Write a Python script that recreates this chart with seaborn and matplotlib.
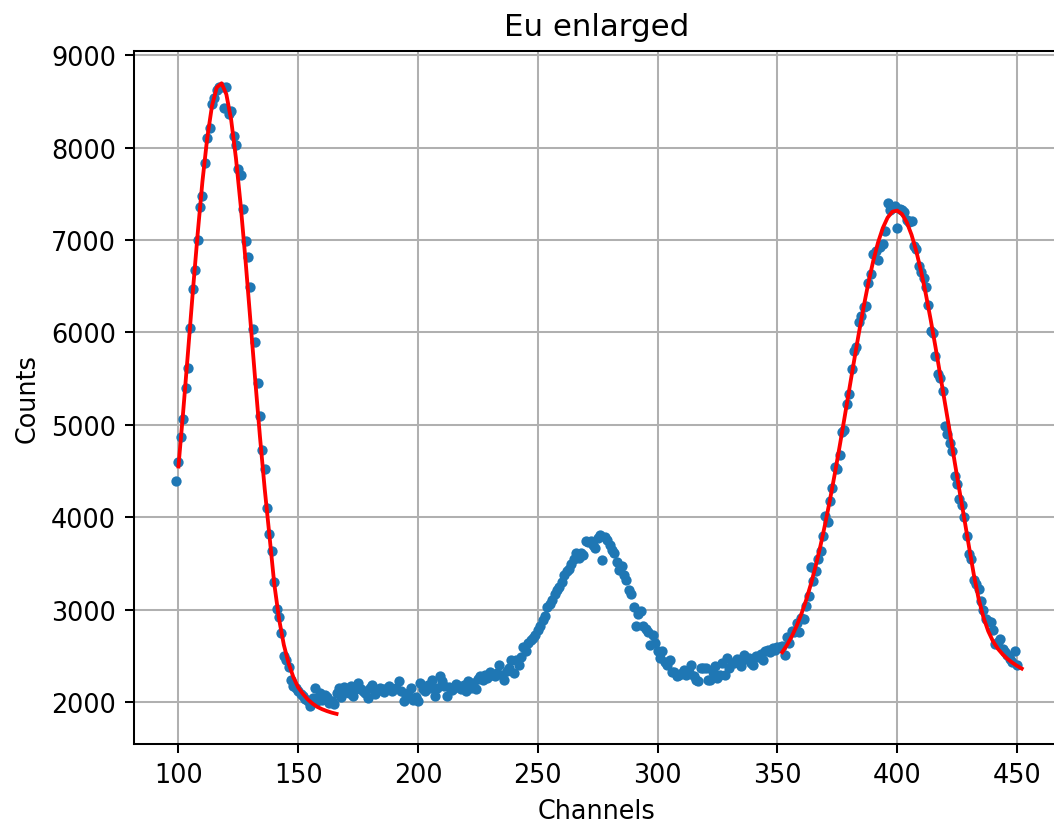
import numpy as np
import pandas as pd
import matplotlib
matplotlib.use("Agg")
import matplotlib.pyplot as plt
import seaborn as sns

# ---------------- data ----------------
first_channel = 99
counts = [
    4390, 4600, 4870, 5060, 5400, 5620, 6050, 6470, 6680, 7000,   # 99-108
    7355, 7480, 7830, 8100, 8210, 8470, 8540, 8620, 8660, 8650,   # 109-118
    8425, 8650, 8360, 8390, 8120, 8030, 7770, 7700, 7330, 6985,   # 119-128
    6820, 6490, 6040, 5900, 5450, 5100, 4730, 4520, 4105, 3825,   # 129-138
    3635, 3305, 3005, 2925, 2745, 2500, 2460, 2385, 2245, 2175,   # 139-148
    2150, 2120, 2090, 2065, 2040, 2010, 1960, 2050, 2160, 2010,   # 149-158
    2100, 2030, 2080, 2060, 1995, 2010, 1985, 2100, 2150, 2060,   # 159-168
    2170, 2110, 2100, 2175, 2065, 2140, 2210, 2140, 2120, 2100,   # 169-178
    2050, 2150, 2190, 2085, 2120, 2160, 2140, 2110, 2150, 2175,   # 179-188
    2120, 2140, 2160, 2225, 2120, 2010, 2080, 2100, 2155, 2030,   # 189-198
    2060, 2010, 2210, 2140, 2120, 2190, 2150, 2245, 2065, 2150,   # 199-208
    2280, 2225, 2180, 2065, 2170, 2130, 2155, 2200, 2175, 2140,   # 209-218
    2190, 2120, 2230, 2160, 2210, 2140, 2250, 2280, 2240, 2300,   # 219-228
    2260, 2330, 2300, 2280, 2320, 2405, 2290, 2245, 2340, 2370,   # 229-238
    2460, 2320, 2460, 2400, 2490, 2600, 2550, 2640, 2670, 2700,   # 239-248
    2730, 2780, 2820, 2890, 2930, 3030, 3060, 3110, 3170, 3210,   # 249-258
    3250, 3300, 3380, 3420, 3440, 3500, 3555, 3610, 3560, 3620,   # 259-268
    3595, 3740, 3735, 3740, 3700, 3665, 3780, 3810, 3540, 3790,   # 269-278
    3760, 3700, 3650, 3610, 3520, 3430, 3470, 3380, 3320, 3215,   # 279-288
    3170, 3030, 2820, 2960, 2990, 2820, 2790, 2765, 2620, 2730,   # 289-298
    2640, 2550, 2480, 2550, 2440, 2405, 2460, 2330, 2330, 2280,   # 299-308
    2300, 2320, 2350, 2290, 2330, 2405, 2280, 2240, 2225, 2370,   # 309-318
    2370, 2370, 2240, 2245, 2330, 2390, 2260, 2300, 2420, 2300,   # 319-328
    2480, 2370, 2420, 2430, 2470, 2460, 2390, 2515, 2470, 2480,   # 329-338
    2420, 2405, 2500, 2495, 2520, 2460, 2550, 2570, 2540, 2585,   # 339-348
    2570, 2600, 2600, 2605, 2515, 2710, 2640, 2770, 2765, 2855,   # 349-358
    2760, 2910, 2900, 3040, 3150, 3460, 3315, 3420, 3550, 3640,   # 359-368
    3800, 4020, 3950, 4180, 4320, 4540, 4520, 4670, 4920, 4940,   # 369-378
    5230, 5330, 5600, 5800, 5840, 6110, 6180, 6270, 6290, 6540,   # 379-388
    6630, 6850, 6885, 6780, 6920, 6960, 7100, 7405, 7320, 7350,   # 389-398
    7370, 7135, 7340, 7320, 7300, 7220, 7190, 7200, 6940, 6900,   # 399-408
    6720, 6650, 6590, 6490, 6300, 6020, 5990, 5750, 5550, 5510,   # 409-418
    5370, 4990, 4900, 4800, 4720, 4450, 4360, 4200, 4130, 4000,   # 419-428
    3800, 3600, 3550, 3320, 3280, 3230, 3100, 3000, 2900, 2880,   # 429-438
    2870, 2780, 2630, 2650, 2690, 2580, 2540, 2510, 2470, 2440,   # 439-448
    2560, 2400,                                                   # 449-450
]
channels = list(range(first_channel, first_channel + len(counts)))

# fitted curve over the first peak (red)
fit1_channels = list(range(100, 167, 2))
fit1_counts = [
    4550, 5150, 5790, 6440, 7060, 7630, 8100, 8450, 8650, 8695,
    8575, 8300, 7885, 7370, 6780, 6140, 5500, 4880, 4310, 3800,
    3280, 2900, 2620, 2420, 2270, 2160, 2090, 2030, 1985, 1950,
    1925, 1905, 1888, 1875,
]

# fitted curve over the last peak (red)
fit2_channels = list(range(352, 453, 2))
fit2_counts = [
    2541, 2619, 2712, 2823, 2954, 3105, 3279, 3475, 3694, 3935,
    4197, 4476, 4770, 5074, 5383, 5691, 5991, 6276, 6539, 6772,
    6972, 7129, 7242, 7306, 7318, 7280, 7192, 7056, 6877, 6659,
    6410, 6136, 5842, 5537, 5228, 4921, 4600, 4290, 3990, 3680,
    3380, 3120, 2920, 2770, 2660, 2580, 2520, 2470, 2430, 2395,
    2365,
]

title_text = "Eu enlarged"
x_label = "Channels"
y_label = "Counts"
x_ticks = [100, 150, 200, 250, 300, 350, 400, 450]
y_ticks = [2000, 3000, 4000, 5000, 6000, 7000, 8000, 9000]

# ---------------- figure ----------------
W, H = 1054, 828
fig = plt.figure(figsize=(W / 100, H / 100), dpi=100)
ax = fig.add_axes([134 / W, 83 / H, 925 / W, 693 / H])

scatter_df = pd.DataFrame({"channel": channels, "counts": counts})
sns.scatterplot(data=scatter_df, x="channel", y="counts", ax=ax,
                s=55, color="#1f77b4", linewidth=0, zorder=3)
sns.lineplot(x=fit1_channels, y=fit1_counts, ax=ax, color="red",
             lw=2.75, zorder=4)
sns.lineplot(x=fit2_channels, y=fit2_counts, ax=ax, color="red",
             lw=2.75, zorder=4)

ax.set_xlim(81.45, 467.55)
ax.set_ylim(1549, 9044)
ax.set_xticks(x_ticks)
ax.set_yticks(y_ticks)
ax.grid(True, color="#b0b0b0", lw=1.47)
ax.set_axisbelow(True)
for sp in ax.spines.values():
    sp.set_linewidth(1.47)
    sp.set_color("black")
ax.tick_params(labelsize=18.4, length=6.4, width=1.47, pad=6.4)
ax.set_xlabel(x_label, fontsize=18.4, labelpad=7.4)
ax.set_ylabel(y_label, fontsize=18.4, labelpad=7.4)
ax.set_title(title_text, fontsize=22.2, pad=11.2)

fig.savefig("out.png", dpi=100)
